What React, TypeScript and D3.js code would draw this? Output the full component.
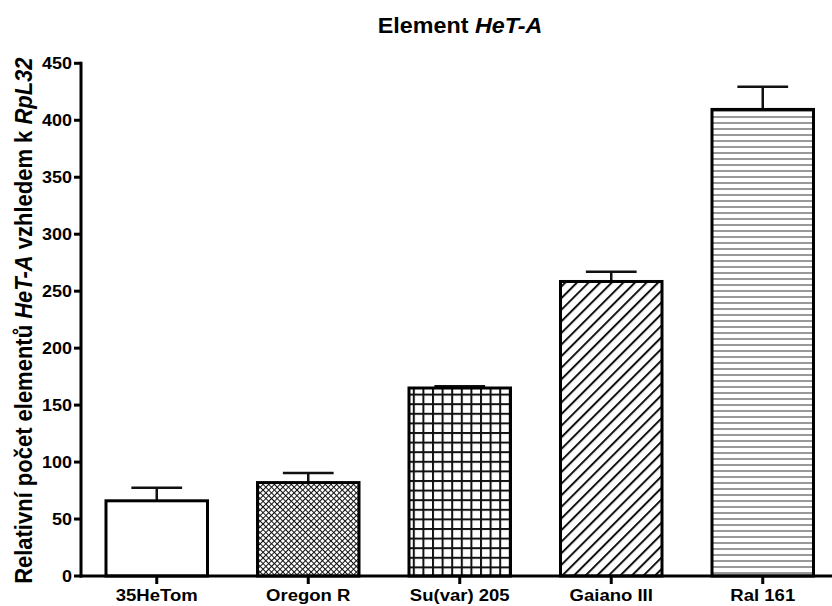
import React from "react";
import * as d3 from "d3";

const categories = ["35HeTom", "Oregon R", "Su(var) 205", "Gaiano III", "Ral 161"];
const means = [66, 82, 165, 258.5, 409.5];
const errors = [11.5, 8.5, 1.5, 8.5, 20];
const patterns = ["none", "checker", "grid", "diag", "hlines"];
const yTicks = [0, 50, 100, 150, 200, 250, 300, 350, 400, 450];

const W = 832;
const H = 606;
const x0 = 81;
const x1 = 838.5;
const yBase = 576;
const yTop = 63.3;

export default function App() {
  const x = d3.scaleBand<string>().domain(categories).range([x0, x1]).paddingInner(0.33).paddingOuter(0.165);
  const y = d3.scaleLinear().domain([0, 450]).range([yBase, yTop]);
  const font = "'Liberation Sans', Arial, sans-serif";
  const bw = x.bandwidth();
  return (
    <svg width={W} height={H} style={{ position: "absolute", left: 0, top: 0, background: "#fff" }} fontFamily={font}>
      <defs>
        <pattern id="checker" width="4" height="4" patternUnits="userSpaceOnUse" patternTransform="rotate(45)">
          <rect width="4" height="4" fill="#fff" />
          <line x1="0" y1="0" x2="4" y2="0" stroke="#111" strokeWidth="2" />
          <line x1="0" y1="0" x2="0" y2="4" stroke="#111" strokeWidth="2" />
        </pattern>
        <pattern id="grid" width="9.6" height="9.6" patternUnits="userSpaceOnUse">
          <rect width="9.6" height="9.6" fill="#fff" />
          <line x1="0" y1="1" x2="9.6" y2="1" stroke="#111" strokeWidth="2" />
          <line x1="1" y1="0" x2="1" y2="9.6" stroke="#111" strokeWidth="2" />
        </pattern>
        <pattern id="diag" width="8.2" height="8.2" patternUnits="userSpaceOnUse" patternTransform="rotate(-45)">
          <rect width="8.2" height="8.2" fill="#fff" />
          <line x1="0" y1="1" x2="8.2" y2="1" stroke="#111" strokeWidth="2" />
        </pattern>
        <pattern id="hlines" width="6" height="6" patternUnits="userSpaceOnUse">
          <rect width="6" height="6" fill="#fff" />
          <line x1="0" y1="3" x2="6" y2="3" stroke="#777" strokeWidth="1.5" />
        </pattern>
      </defs>
      <rect width={W} height={H} fill="#fff" />
      <text transform="translate(460,33) scale(1.06,1)" textAnchor="middle" fontWeight="bold" fontSize={22}>
        Element <tspan fontStyle="italic">HeT-A</tspan>
      </text>
      <text transform={`translate(32,${(yBase + yTop) / 2 + 1}) rotate(-90) scale(1,1.08)`} textAnchor="middle" fontWeight="bold" fontSize={22}>
        Relativní počet elementů <tspan fontStyle="italic">HeT-A</tspan> vzhledem k <tspan fontStyle="italic">RpL32</tspan>
      </text>
      {categories.map((c, i) => {
        const bx = x(c)!;
        const cx = bx + bw / 2;
        const top = y(means[i]);
        const et = y(means[i] + errors[i]);
        return (
          <g key={c}>
            <line x1={cx} x2={cx} y1={top} y2={et} stroke="#111" strokeWidth={2.5} />
            <line x1={cx - bw / 4} x2={cx + bw / 4} y1={et} y2={et} stroke="#111" strokeWidth={2.5} />
            <rect x={bx} y={top} width={bw} height={yBase - top} fill={patterns[i] === "none" ? "#fff" : `url(#${patterns[i]})`} stroke="#000" strokeWidth={3} />
            <line x1={cx} x2={cx} y1={yBase} y2={yBase + 8} stroke="#000" strokeWidth={3} />
            <text transform={`translate(${cx},601) scale(1.09,1)`} textAnchor="middle" fontWeight="bold" fontSize={17}>{c}</text>
          </g>
        );
      })}
      <line x1={x0} x2={x0} y1={yTop - 1.5} y2={yBase + 1.5} stroke="#000" strokeWidth={3} />
      <line x1={x0 - 1.5} x2={W + 10} y1={yBase} y2={yBase} stroke="#000" strokeWidth={3} />
      {yTicks.map((t) => (
        <g key={t}>
          <line x1={x0 - 7} x2={x0} y1={y(t)} y2={y(t)} stroke="#000" strokeWidth={3} />
          <text transform={`translate(${x0 - 9},${y(t)}) scale(1.09,1)`} dy="0.35em" textAnchor="end" fontWeight="bold" fontSize={16.5}>{t}</text>
        </g>
      ))}
    </svg>
  );
}
